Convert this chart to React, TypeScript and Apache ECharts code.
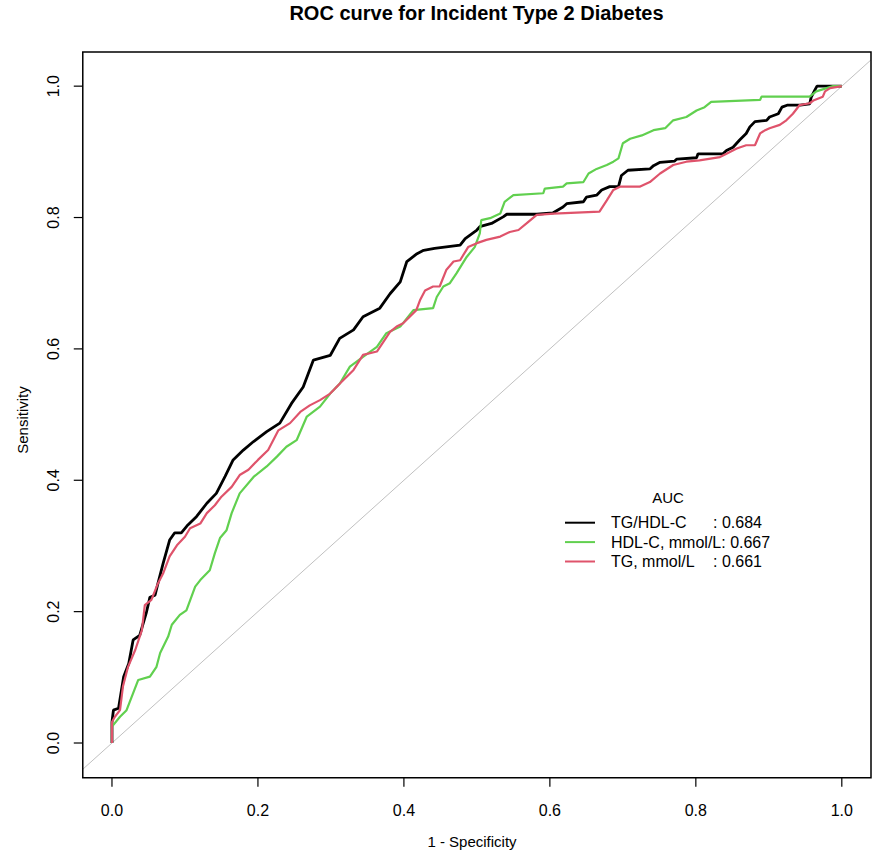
import React, { useEffect, useRef } from "react";
import * as echarts from "echarts";

const chartTitle = "ROC curve for Incident Type 2 Diabetes";
const xAxisTitle = "1 - Specificity";
const yAxisTitle = "Sensitivity";
const legendTitle = "AUC";
const tickValues = [0, 0.2, 0.4, 0.6, 0.8, 1.0];
const seriesNames = ["TG/HDL-C", "HDL-C, mmol/L", "TG, mmol/L"];
const aucValues = ["0.684", "0.667", "0.661"];
const seriesColors = ["#000000", "#61D04F", "#DF536B"];
const referenceLine = [
  [-0.04, -0.04],
  [1.04, 1.04],
];

// [1 - specificity, sensitivity]
const tgHdlRoc = [
  [0, 0], [0.0, 0.032], [0.002, 0.05], [0.009, 0.053], [0.016, 0.101], [0.023, 0.121],
  [0.029, 0.157], [0.038, 0.164], [0.047, 0.198], [0.052, 0.222], [0.059, 0.225],
  [0.063, 0.243], [0.07, 0.273], [0.079, 0.309], [0.086, 0.32], [0.095, 0.32],
  [0.104, 0.332], [0.116, 0.345], [0.13, 0.365], [0.143, 0.38], [0.155, 0.406],
  [0.166, 0.431], [0.18, 0.446], [0.194, 0.459], [0.212, 0.474], [0.23, 0.487],
  [0.246, 0.517], [0.262, 0.542], [0.276, 0.583], [0.299, 0.59], [0.312, 0.616],
  [0.331, 0.629], [0.344, 0.649], [0.367, 0.662], [0.381, 0.684], [0.395, 0.702],
  [0.404, 0.733], [0.418, 0.745], [0.427, 0.75], [0.442, 0.753], [0.477, 0.758],
  [0.484, 0.768], [0.5, 0.781], [0.504, 0.786], [0.52, 0.791], [0.536, 0.801],
  [0.541, 0.805], [0.582, 0.805], [0.604, 0.807], [0.618, 0.816], [0.623, 0.821],
  [0.646, 0.824], [0.65, 0.831], [0.664, 0.834], [0.671, 0.842], [0.682, 0.847],
  [0.694, 0.847], [0.698, 0.864], [0.707, 0.872], [0.737, 0.874], [0.742, 0.879],
  [0.751, 0.884], [0.771, 0.886], [0.774, 0.889], [0.801, 0.891], [0.803, 0.897],
  [0.837, 0.897], [0.842, 0.902], [0.851, 0.907], [0.86, 0.918], [0.869, 0.928],
  [0.874, 0.938], [0.881, 0.946], [0.897, 0.948], [0.901, 0.953], [0.913, 0.958],
  [0.918, 0.968], [0.925, 0.971], [0.943, 0.971], [0.956, 0.973], [0.958, 0.983],
  [0.963, 0.994], [0.966, 1.0], [0.984, 1.0], [1.0, 1.0],
];

const hdlRoc = [
  [0, 0], [0.0, 0.025], [0.011, 0.04], [0.02, 0.05], [0.029, 0.076], [0.036, 0.096],
  [0.052, 0.101], [0.061, 0.116], [0.066, 0.137], [0.077, 0.162], [0.082, 0.18],
  [0.093, 0.195], [0.102, 0.202], [0.114, 0.238], [0.121, 0.248], [0.134, 0.263],
  [0.141, 0.289], [0.148, 0.312], [0.157, 0.324], [0.164, 0.35], [0.175, 0.38],
  [0.194, 0.405], [0.212, 0.421], [0.226, 0.436], [0.239, 0.451], [0.253, 0.461],
  [0.267, 0.497], [0.285, 0.512], [0.299, 0.532], [0.312, 0.547], [0.326, 0.573],
  [0.344, 0.588], [0.363, 0.603], [0.376, 0.624], [0.395, 0.634], [0.413, 0.659],
  [0.44, 0.662], [0.445, 0.679], [0.454, 0.695], [0.463, 0.7], [0.472, 0.715],
  [0.486, 0.74], [0.497, 0.755], [0.504, 0.776], [0.506, 0.796], [0.518, 0.799],
  [0.532, 0.806], [0.538, 0.824], [0.55, 0.834], [0.591, 0.837], [0.593, 0.844],
  [0.618, 0.847], [0.623, 0.852], [0.646, 0.854], [0.653, 0.867], [0.664, 0.874],
  [0.678, 0.88], [0.687, 0.885], [0.694, 0.89], [0.7, 0.913], [0.71, 0.92],
  [0.726, 0.925], [0.742, 0.933], [0.758, 0.936], [0.769, 0.948], [0.787, 0.953],
  [0.801, 0.963], [0.812, 0.968], [0.821, 0.976], [0.888, 0.979], [0.89, 0.984],
  [0.956, 0.984], [0.965, 0.992], [0.988, 1.0], [1.0, 1.0],
];

const tgRoc = [
  [0, 0], [0.0, 0.032], [0.004, 0.04], [0.011, 0.05], [0.015, 0.086], [0.022, 0.116],
  [0.032, 0.142], [0.041, 0.172], [0.045, 0.21], [0.054, 0.218], [0.063, 0.243],
  [0.07, 0.258], [0.079, 0.284], [0.089, 0.301], [0.1, 0.314], [0.107, 0.327],
  [0.121, 0.334], [0.13, 0.35], [0.141, 0.362], [0.15, 0.375], [0.164, 0.39],
  [0.175, 0.408], [0.187, 0.416], [0.2, 0.431], [0.214, 0.446], [0.228, 0.476],
  [0.244, 0.487], [0.258, 0.504], [0.271, 0.514], [0.285, 0.522], [0.299, 0.532],
  [0.312, 0.547], [0.331, 0.568], [0.344, 0.591], [0.363, 0.596], [0.381, 0.626],
  [0.39, 0.634], [0.399, 0.639], [0.408, 0.649], [0.417, 0.659], [0.422, 0.674],
  [0.429, 0.689], [0.44, 0.695], [0.449, 0.695], [0.458, 0.72], [0.468, 0.733],
  [0.477, 0.735], [0.488, 0.755], [0.5, 0.761], [0.513, 0.766], [0.532, 0.771],
  [0.545, 0.778], [0.557, 0.781], [0.568, 0.791], [0.582, 0.804], [0.605, 0.806],
  [0.668, 0.809], [0.678, 0.826], [0.687, 0.842], [0.696, 0.847], [0.723, 0.847],
  [0.737, 0.854], [0.751, 0.867], [0.769, 0.88], [0.787, 0.885], [0.805, 0.887],
  [0.833, 0.892], [0.842, 0.897], [0.856, 0.905], [0.869, 0.91], [0.881, 0.91],
  [0.888, 0.928], [0.895, 0.933], [0.901, 0.936], [0.915, 0.941], [0.924, 0.948],
  [0.933, 0.958], [0.942, 0.971], [0.956, 0.974], [0.961, 0.978], [0.974, 0.984],
  [0.977, 0.992], [0.984, 0.997], [1.0, 1.0],
];

const rocData = [tgHdlRoc, hdlRoc, tgRoc];
const lineWidths = [2.8, 2.2, 2.2];
// plot frame (R's box) in data units, and the outer range that also holds the tick marks
const frameX = [-0.04, 1.04];
const frameY = [-0.053, 1.052];
const outerX = [-0.0534, 1.04];
const outerY = [-0.0685, 1.052];

const FONT = "'Liberation Sans', Arial, Helvetica, sans-serif";
const TICK_LEN = 9;

export default function App() {
  const ref = useRef<HTMLDivElement>(null);

  useEffect(() => {
    document.body.style.margin = "0";
    if (!ref.current) return;
    const chart = echarts.init(ref.current, undefined, { renderer: "svg" });

    const axisCommon = {
      type: "value" as const,
      axisLine: { show: false, onZero: false },
      splitLine: { show: false },
      axisTick: { show: false },
      axisLabel: {
        customValues: tickValues,
        color: "#000",
        fontSize: 16,
        fontFamily: FONT,
        formatter: (v: number) => v.toFixed(1),
      },
      nameLocation: "middle" as const,
      nameTextStyle: { color: "#000", fontSize: 15, fontFamily: FONT },
    };

    const legendRich = {
      w: { width: 102, fontSize: 16, fontFamily: FONT, color: "#000" },
      n: { fontSize: 16, fontFamily: FONT, color: "#000" },
      v: { fontSize: 16, fontFamily: FONT, color: "#000" },
    };

    const tickStyle = { fill: "#000" };

    chart.setOption({
      animation: false,
      backgroundColor: "#ffffff",
      grid: {
        left: 73,
        top: 52,
        width: 798,
        height: 736,
        show: false,
        containLabel: false,
      },
      xAxis: {
        ...axisCommon,
        min: outerX[0],
        max: outerX[1],
        name: xAxisTitle,
        nameGap: 46,
        axisLabel: { ...axisCommon.axisLabel, margin: 14 },
      },
      yAxis: {
        ...axisCommon,
        min: outerY[0],
        max: outerY[1],
        name: yAxisTitle,
        nameGap: 43,
        axisLabel: { ...axisCommon.axisLabel, rotate: 90, margin: 12 },
      },
      legend: {
        data: seriesNames,
        orient: "vertical",
        left: 565,
        top: 513,
        padding: 0,
        itemGap: 0,
        itemWidth: 30,
        itemHeight: 2,
        icon: "rect",
        textStyle: {
          fontSize: 16,
          fontFamily: FONT,
          color: "#000",
          lineHeight: 19.4,
          padding: [0, 0, 0, 11],
          rich: legendRich,
        },
        formatter: (name: string) => {
          const i = seriesNames.indexOf(name);
          const key = name === "HDL-C, mmol/L" ? "n" : "w";
          return `{${key}|${name}}{v|: ${aucValues[i]}}`;
        },
        selectedMode: false,
      },
      graphic: [
        {
          type: "text",
          x: 476.5,
          y: 13,
          style: {
            text: chartTitle,
            fontSize: 20,
            fontWeight: "bold",
            fontFamily: FONT,
            fill: "#000",
            align: "center",
            verticalAlign: "middle",
          },
        },
        {
          type: "text",
          x: 668,
          y: 497,
          style: {
            text: legendTitle,
            fontSize: 15,
            fontFamily: FONT,
            fill: "#000",
            align: "center",
            verticalAlign: "middle",
          },
        },
      ],
      series: [
        {
          type: "line",
          name: "identity",
          data: referenceLine,
          symbol: "none",
          silent: true,
          lineStyle: { color: "#c0c0c0", width: 1 },
          z: 1,
        },
        ...seriesNames.map((name, i) => ({
          type: "line",
          name,
          data: rocData[i],
          symbol: "none",
          color: seriesColors[i],
          lineStyle: { color: seriesColors[i], width: lineWidths[i] },
          z: 2 + i,
        })),
        {
          type: "custom",
          name: "frame",
          silent: true,
          data: [[frameX[0], frameY[1], frameX[1], frameY[0]]],
          encode: { x: [0, 2], y: [1, 3] },
          renderItem: (_params: any, api: any) => {
            const a = api.coord([api.value(0), api.value(1)]);
            const b = api.coord([api.value(2), api.value(3)]);
            return {
              type: "rect",
              shape: { x: a[0], y: a[1], width: b[0] - a[0], height: b[1] - a[1] },
              style: { fill: "none", stroke: "#000", lineWidth: 1.5 },
            };
          },
          z: 9,
        },
        {
          type: "custom",
          name: "xTicks",
          silent: true,
          data: tickValues.map((v) => [v, frameY[0]]),
          encode: { x: 0, y: 1 },
          renderItem: (_params: any, api: any) => {
            const p = api.coord([api.value(0), api.value(1)]);
            return {
              type: "rect",
              shape: { x: p[0] - 0.6, y: p[1], width: 1.2, height: TICK_LEN },
              style: tickStyle,
            };
          },
          z: 10,
        },
        {
          type: "custom",
          name: "yTicks",
          silent: true,
          data: tickValues.map((v) => [frameX[0], v]),
          encode: { x: 0, y: 1 },
          renderItem: (_params: any, api: any) => {
            const p = api.coord([api.value(0), api.value(1)]);
            return {
              type: "rect",
              shape: { x: p[0] - TICK_LEN, y: p[1] - 0.6, width: TICK_LEN, height: 1.2 },
              style: tickStyle,
            };
          },
          z: 10,
        },
      ],
    });

    return () => {
      chart.dispose();
    };
  }, []);

  return (
    <div
      ref={ref}
      style={{ position: "absolute", left: 0, top: 0, width: 886, height: 862 }}
    />
  );
}
